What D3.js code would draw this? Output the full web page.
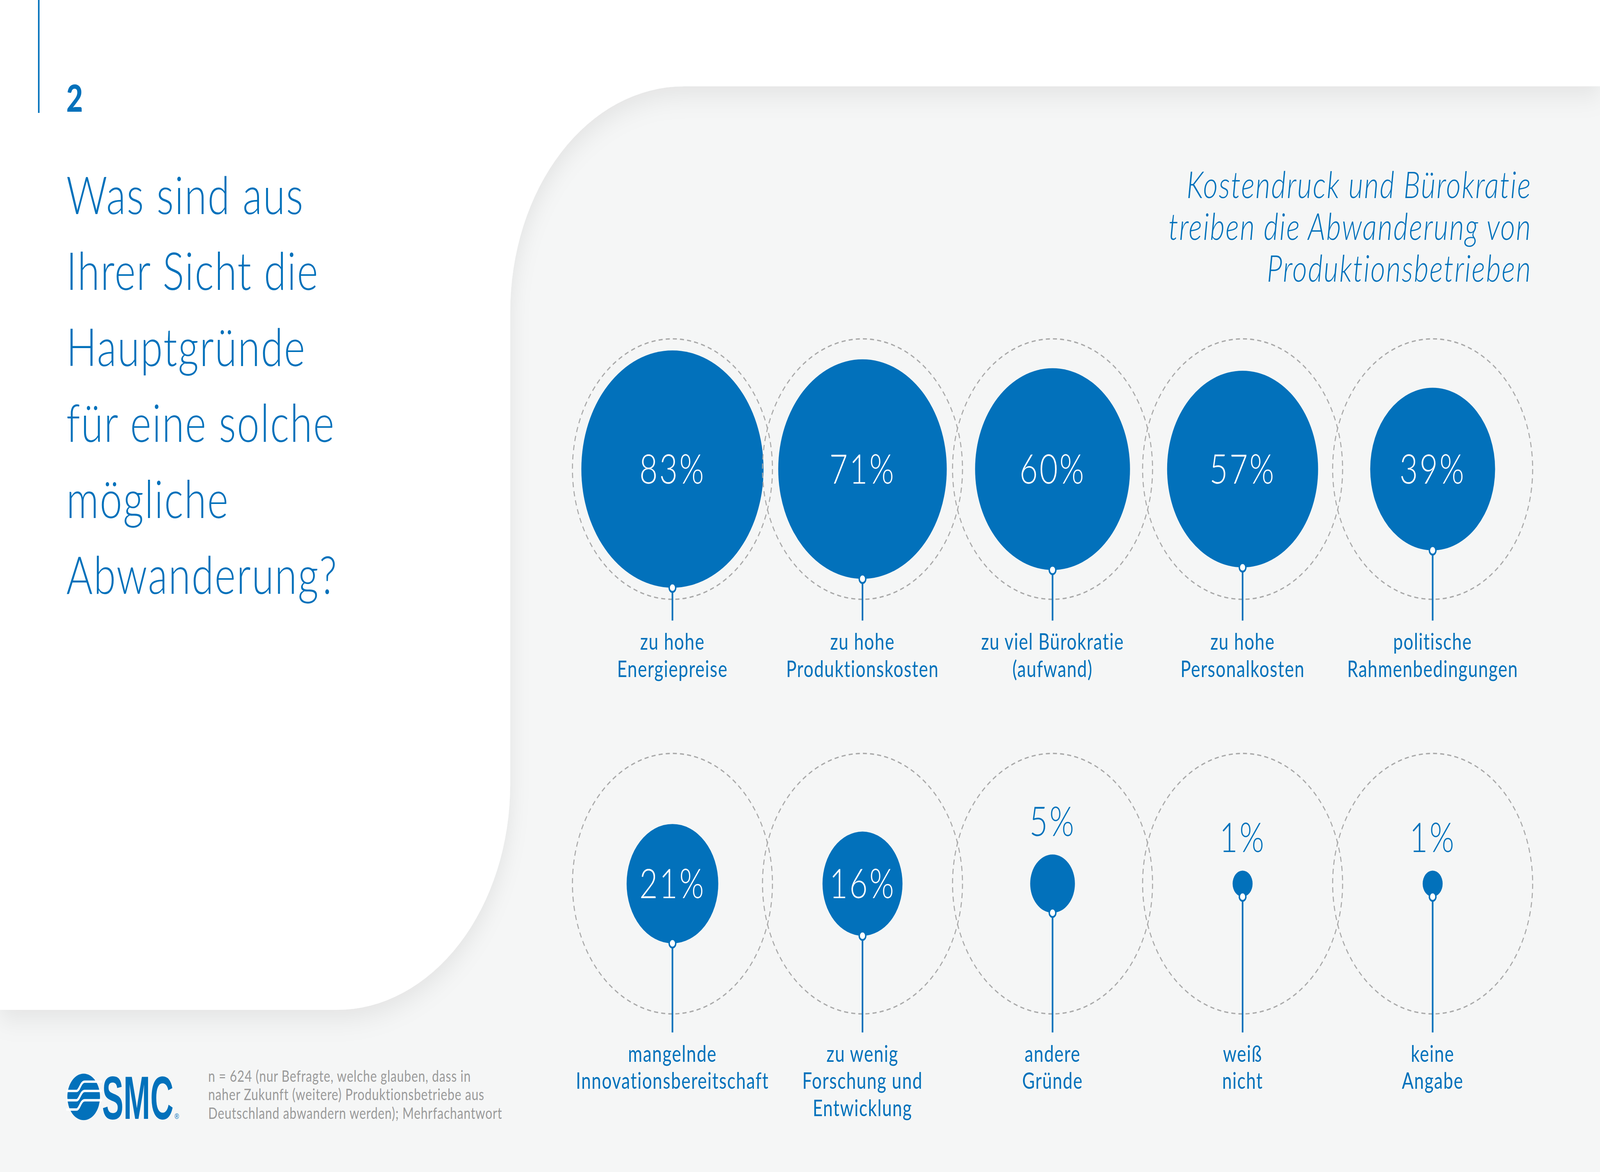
<!DOCTYPE html>
<html>
<head>
	<meta charset="utf-8">
	<script src="https://cdn.jsdelivr.net/npm/d3@7"></script>
	<style>
		html, body { margin: 0; padding: 0; width: 100%; height: 100%; overflow: hidden; background: #f5f6f6; }
		svg { display: block; width: 100vw; height: 100vh; }
	</style>
</head>
<body>
	<script>
		// data
		var topLabels = ["zu hohe\nEnergiepreise", "zu hohe\nProduktionskosten", "zu viel Bürokratie\n(aufwand)", "zu hohe\nPersonalkosten", "politische\nRahmenbedingungen"];
		var topValues = [83, 71, 60, 57, 39];
		var bottomLabels = ["mangelnde\nInnovationsbereitschaft", "zu wenig\nForschung und\nEntwicklung", "andere\nGründe", "weiß\nnicht", "keine\nAngabe"];
		var bottomValues = [21, 16, 5, 1, 1];
		var questionLines = ["Was sind aus", "Ihrer Sicht die", "Hauptgründe", "für eine solche", "mögliche", "Abwanderung?"];
		var subtitleLines = ["Kostendruck und Bürokratie", "treiben die Abwanderung von", "Produktionsbetrieben"];
		var noteLines = ["n = 624 (nur Befragte, welche glauben, dass in", "naher Zukunft (weitere) Produktionsbetriebe aus", "Deutschland abwandern werden); Mehrfachantwort"];

		var W = 1568, H = 882; /* drawn in a 1568 x 882 space, stretched to fill the window */
		var blue = "#0271bb";
		var grey = "#f5f6f6";

		var svg = d3.select("body").append("svg")
			.attr("viewBox", "0 0 " + W + " " + H)
			.attr("preserveAspectRatio", "none");

		var defs = svg.append("defs");
		var f = defs.append("filter").attr("id", "shadow")
			.attr("x", "-10%").attr("y", "-10%").attr("width", "130%").attr("height", "130%");
		f.append("feDropShadow").attr("dx", 0).attr("dy", 6).attr("stdDeviation", 10)
			.attr("flood-color", "#000").attr("flood-opacity", 0.08);

		svg.append("rect").attr("width", W).attr("height", H).attr("fill", grey);

		// white card: top strip plus left panel, rounded corners where they meet the grey
		var R = 170, cardX = 500, topY = 65, cardBottom = 760;
		var card = d3.path();
		card.moveTo(0, 0);
		card.lineTo(W, 0);
		card.lineTo(W, topY);
		card.lineTo(cardX + R, topY);
		card.arcTo(cardX, topY, cardX, topY + R, R);
		card.lineTo(cardX, cardBottom - R);
		card.arcTo(cardX, cardBottom, cardX - R, cardBottom, R);
		card.lineTo(0, cardBottom);
		card.closePath();
		svg.append("path").attr("d", card.toString()).attr("fill", "#fff").attr("filter", "url(#shadow)");

		// page marker
		svg.append("line").attr("x1", 38).attr("x2", 38).attr("y1", 0).attr("y2", 85)
			.attr("stroke", blue).attr("stroke-width", 1.5);
		svg.append("text").attr("x", 65).attr("y", 84).text("2")
			.attr("fill", blue).style("font-family", "Lato").style("font-weight", 900).style("font-size", "28px");

		// question
		svg.append("g").selectAll("text").data(questionLines).join("text")
			.attr("x", 65)
			.attr("y", function(d, i) { return 161 + i * 57.2; })
			.text(function(d) { return d; })
			.attr("fill", blue)
			.style("font-family", "Lato").style("font-weight", 300).style("font-size", "39.5px")
			.style("letter-spacing", "0.9px");

		// subtitle
		svg.append("g").selectAll("text").data(subtitleLines).join("text")
			.attr("x", 1501)
			.attr("y", function(d, i) { return 149 + i * 31.5; })
			.attr("text-anchor", "end")
			.text(function(d) { return d; })
			.attr("fill", blue)
			.style("font-family", "Lato").style("font-style", "italic").style("font-weight", 300)
			.style("font-size", "28px").style("letter-spacing", "0.9px");

		// scales
		var x = d3.scalePoint().domain(d3.range(5)).range([659, 1404]);
		var r = d3.scaleSqrt().domain([0, 100]).range([0, 98]);

		function drawRow(values, labels, cy, lineEnd, labelY) {
			var g = svg.append("g");
			var cell = g.selectAll("g").data(values).join("g")
				.attr("transform", function(d, i) { return "translate(" + x(i) + "," + cy + ")"; });

			cell.append("circle").attr("r", r(100))
				.attr("fill", "none").attr("stroke", "#a9a9a9")
				.attr("stroke-width", 1).attr("stroke-dasharray", "4 3");

			cell.append("circle").attr("r", function(d) { return r(d); }).attr("fill", blue);

			cell.append("line")
				.attr("x1", 0).attr("x2", 0)
				.attr("y1", function(d) { return r(d); })
				.attr("y2", lineEnd - cy)
				.attr("stroke", blue).attr("stroke-width", 1.6);

			cell.append("circle")
				.attr("cy", function(d) { return r(d); })
				.attr("r", 3.2)
				.attr("fill", "#fff").attr("stroke", blue).attr("stroke-width", 1.4);

			// value label: inside big circles, above small ones
			cell.append("text")
				.attr("text-anchor", "middle")
				.attr("y", function(d) { return r(d) > 30 ? 11 : -r(d) - 14; })
				.attr("fill", function(d) { return r(d) > 30 ? "#fff" : blue; })
				.style("font-family", "Lato").style("font-weight", 300).style("font-size", "31px")
				.style("letter-spacing", "1.6px")
				.text(function(d) { return d + "%"; });

			// category label
			cell.append("text")
				.attr("text-anchor", "middle")
				.attr("fill", blue)
				.style("font-family", "Lato").style("font-size", "17px").style("letter-spacing", "0.6px")
				.each(function(d, i) {
					var t = d3.select(this);
					labels[i].split("\n").forEach(function(line, j) {
						t.append("tspan").attr("x", 0).attr("y", labelY - cy + j * 20.5).text(line);
					});
				});
		}

		drawRow(topValues, topLabels, 353, 467, 489);
		drawRow(bottomValues, bottomLabels, 665, 777, 799);

		// logo
		var logo = svg.append("g").attr("transform", "translate(66,808)");
		logo.append("ellipse").attr("cx", 16).attr("cy", 17.5).attr("rx", 16).attr("ry", 17.5).attr("fill", blue);
		[10, 17, 24].forEach(function(yy) {
			logo.append("path")
				.attr("d", "M-1," + (yy + 3) + " L9," + (yy + 3) + " C12," + (yy + 3) + " 13," + (yy - 4) + " 17," + (yy - 4) + " L34," + (yy - 4))
				.attr("fill", "none").attr("stroke", "#fff").attr("stroke-width", 1.8);
		});
		var mark = logo.append("text").attr("x", 34).attr("y", 34)
			.attr("fill", blue).style("font-family", "Liberation Sans");
		mark.append("tspan").text("SMC")
			.attr("textLength", 70).attr("lengthAdjust", "spacingAndGlyphs")
			.style("font-weight", 700).style("font-size", "46px");
		mark.append("tspan").text("®").attr("dx", 1).style("font-size", "6px");

		// footnote
		svg.append("g").selectAll("text").data(noteLines).join("text")
			.attr("x", 204)
			.attr("y", function(d, i) { return 814 + i * 14; })
			.text(function(d) { return d; })
			.attr("fill", "#9a9a9a")
			.style("font-family", "Lato").style("font-size", "12px").style("letter-spacing", "0.35px");
	</script>
</body>
</html>
